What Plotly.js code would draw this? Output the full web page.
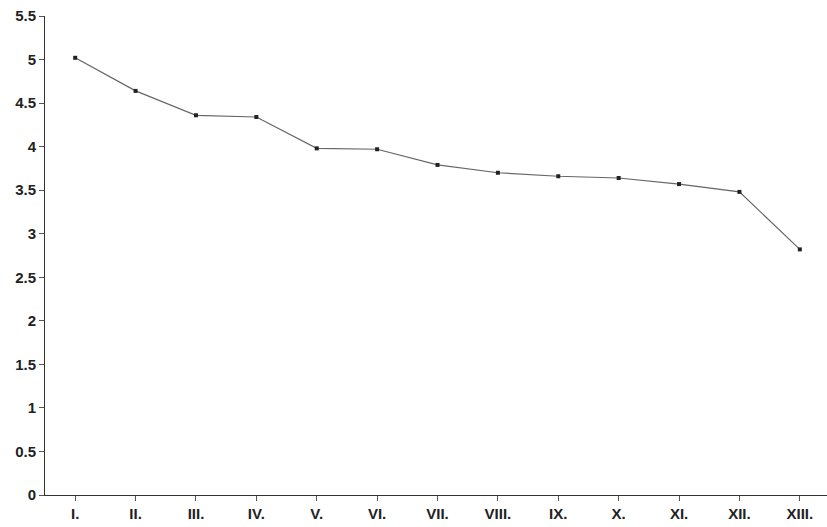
<!DOCTYPE html>
<html>
<head>
<meta charset="utf-8">
<script src="https://cdn.plot.ly/plotly-3.0.1.min.js"></script>
<style>html,body{margin:0;padding:0;background:#fff;}#chart{width:827px;height:527px;}</style>
</head>
<body>
<div id="chart"></div>
<script>
const categories = ["I.", "II.", "III.", "IV.", "V.", "VI.", "VII.", "VIII.", "IX.", "X.", "XI.", "XII.", "XIII."];
const values = [5.02, 4.64, 4.36, 4.34, 3.98, 3.97, 3.79, 3.70, 3.66, 3.64, 3.57, 3.48, 2.82];
const yTickVals = [0, 0.5, 1, 1.5, 2, 2.5, 3, 3.5, 4, 4.5, 5, 5.5];
const yTickText = ["0", "0.5", "1", "1.5", "2", "2.5", "3", "3.5", "4", "4.5", "5", "5.5"];

const font = {family: "Liberation Sans, Arial, sans-serif", size: 15, color: "#222", weight: "bold"};

Plotly.newPlot("chart", [{
  x: categories,
  y: values,
  type: "scatter",
  mode: "lines+markers",
  line: {color: "#666", width: 1.2},
  marker: {symbol: "square", size: 4, color: "#222"},
  hoverinfo: "x+y"
}], {
  width: 827,
  height: 527,
  margin: {l: 45, r: 0, t: 16, b: 32},
  paper_bgcolor: "#fff",
  plot_bgcolor: "#fff",
  showlegend: false,
  font: font,
  xaxis: {
    type: "category",
    range: [-0.5, 12.45],
    showgrid: false,
    zeroline: false,
    showline: true,
    linecolor: "#333",
    linewidth: 1,
    ticks: "outside",
    ticklen: 5,
    tickcolor: "#555",
    tickfont: font
  },
  yaxis: {
    range: [0, 5.5],
    tickvals: yTickVals,
    ticktext: yTickText,
    showgrid: false,
    zeroline: false,
    showline: true,
    linecolor: "#333",
    linewidth: 1,
    ticks: "outside",
    ticklen: 5,
    tickcolor: "#555",
    tickfont: font
  }
}, {displayModeBar: false, staticPlot: true});
</script>
</body>
</html>
